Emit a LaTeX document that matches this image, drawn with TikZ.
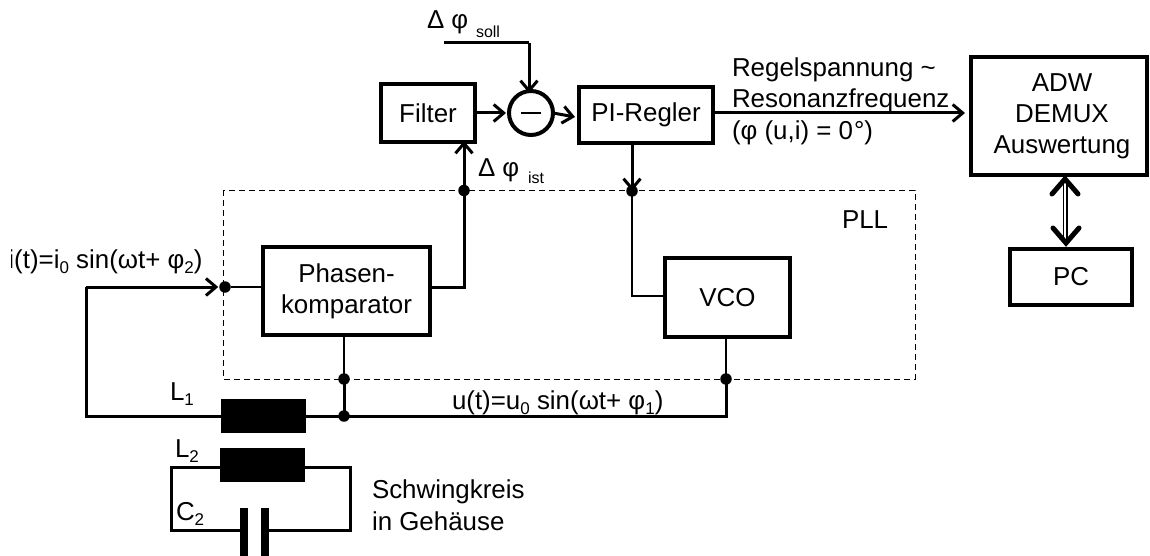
\documentclass[tikz,border=0pt]{standalone}
\usepackage{fontspec}
\setmainfont{Liberation Sans}
\usetikzlibrary{arrows.meta}
\newcommand{\subs}[1]{\raisebox{-5pt}{\fontsize{17}{17}\selectfont #1}}
\tikzset{
  x=1pt,y=-1pt,
  every node/.style={font=\fontsize{25.9}{31}\selectfont,inner sep=0pt,outer sep=0pt},
  blockbox/.style={draw=black,line width=4pt,align=center,fill=white},
  wire/.style={line width=3pt,line join=miter},
  arrowwire/.style={wire,-{Straight Barb[length=10pt,width=17pt,line width=3pt]}},
  thinwire/.style={line width=2.4pt},
  junction/.style={circle,fill=black,minimum size=11.5pt},
  coil/.style={fill=black,minimum width=85pt,minimum height=34pt},
  plate/.style={fill=black,minimum width=8.5pt,minimum height=48pt},
  txt/.style={anchor=base west},
  plldash/.style={line width=0.9pt,dash pattern=on 6pt off 4pt},
}
\begin{document}
\begin{tikzpicture}
\useasboundingbox (0,0) rectangle (1150,556);
\fill[white] (0,0) rectangle (1150,556);

% PLL frame
\draw[plldash] (223,190) rectangle (915,379);

% blocks
\node[blockbox,minimum width=94pt,minimum height=58pt] (filter) at (428,113) {Filter};
\node[circle,draw=black,line width=4pt,minimum size=44pt] (diff) at (531,113) {\rule[-1.3pt]{20pt}{2.6pt}};
\node[blockbox,minimum width=134pt,minimum height=56pt] (pi) at (646,115) {PI-Regler};
\node[blockbox,minimum width=176pt,minimum height=118pt] (adw) at (1059,116) {\hspace*{6pt}ADW\\\hspace*{6pt}DEMUX\\\hspace*{6pt}Auswertung};
\node[blockbox,minimum width=122pt,minimum height=56pt] (pc) at (1071,277) {PC};
\node[blockbox,minimum width=167pt,minimum height=88pt] (phase) at (346.5,291) {Phasen-\\komparator};
\node[blockbox,minimum width=125pt,minimum height=79pt] (vco) at (727.5,297.5) {VCO};

% inductors and capacitor
\coordinate (ltop) at (171,467);
\coordinate (rtop) at (350,467);
\coordinate (lbot) at (171,530);
\coordinate (rbot) at (350,530);
\node[coil] (l1) at (263.5,416) {};
\node[coil] (l2) at (262.5,465) {};
\node[plate] (c1) at (244,532) {};
\node[plate] (c2) at (265,532) {};

% junctions
\node[junction] (jin) at (225,287) {};
\node[junction] (jist) at (464,190.5) {};
\node[junction] (jpi) at (632,191) {};
\node[junction] (jpb) at (344,379) {};
\node[junction] (jpw) at (344,416) {};
\node[junction] (jvb) at (726,379) {};
\coordinate (iout) at (86,416);
\coordinate (itop) at (86,287);
\coordinate (uend) at (726,416);
\coordinate (sollstart) at (444,43);
\coordinate (sollcorner) at (529,43);
\coordinate (phout) at (464,287);
\coordinate (vcoin) at (632,296);

% connectors
\draw[wire] (l1.west) -- (iout) -- (itop);
\draw[arrowwire] (itop) -- ([xshift=-1pt]jin.west);
\draw[thinwire] (jin.east) -- (jin.east -| phase.west);
\draw[wire] (phase.east |- phout) -- (phout) -- (jist.center);
\draw[arrowwire] (jist.center) -- ([yshift=1pt]filter.south -| jist);
\draw[thinwire] (phase.south -| jpb) -- (jpb.center);
\draw[wire] (jpb.center) -- (jpw.center);
\draw[wire] (l1.east) -- (uend) -- (jvb.center);
\draw[thinwire] (jvb.center) -- (vco.south -| jvb);
\draw[arrowwire] (pi.south -| jpi) -- (jpi.center);
\draw[thinwire] (jpi.center) -- (vcoin) -- (vcoin -| vco.west);
\draw[wire] (sollstart) -- (sollcorner);
\draw[arrowwire] (sollcorner) -- ([yshift=-2pt]diff.north -| sollcorner);
\draw[arrowwire] ([xshift=2pt]filter.east) -- ([xshift=-3pt]diff.west);
\draw[arrowwire] (diff.east) -- ([xshift=-4pt,yshift=-2pt]pi.west);
\draw[arrowwire] (pi.east |- diff) -- ([xshift=-6pt]adw.west |- diff);
\draw[wire] (ltop) -- (lbot) -- (lbot -| c1.west);
\draw[wire] (rtop) -- (rbot) -- (rbot -| c2.east);
\draw[wire,line cap=rect] (ltop) -- (rtop);

% double arrow
\draw[line width=1.5pt] (1063.5,180) -- (1063.5,243);
\draw[line width=1.5pt] (1067,180) -- (1067,243);
\draw[line width=5pt,line cap=round,line join=miter] (1052,194) -- (1065,179) -- (1078,194);
\draw[line width=5pt,line cap=round,line join=miter] (1053,228) -- (1066,243) -- (1079,228);

% labels
\node[txt] (ldsoll) at (427,29) {Δ φ};
\node[txt,font=\fontsize{16}{16}\selectfont] (lsoll) at (476,38) {soll};
\node[txt] (ldist) at (478,177) {Δ φ};
\node[txt,font=\fontsize{16}{16}\selectfont] (list) at (528,184) {ist};
\node[txt] (lr1) at (732,77) {Regelspannung \char`\~};
\node[txt] (lr2) at (732,108) {Resonanzfrequenz};
\node[txt] (lr3) at (732,140) {(φ (u,i) = 0\kern1pt°)};
\node[txt] (lpll) at (842,228) {PLL};
\begin{scope}
\clip (11,240) rectangle (300,280);
\node[txt] (li) at (8.5,268) {i(t)=i\subs{0} sin(ωt+ φ\subs{2})};
\end{scope}
\node[txt] (lu) at (452,409) {u(t)=u\subs{0} sin(ωt+ φ\subs{1})};
\node[txt] (ll1) at (170,400) {L\subs{1}};
\node[txt] (ll2) at (175,457) {L\subs{2}};
\node[txt] (lc2) at (176,520) {C\subs{2}};
\node[txt] (ls1) at (372,498) {Schwingkreis};
\node[txt] (ls2) at (372,530) {in Gehäuse};
\end{tikzpicture}
\end{document}
